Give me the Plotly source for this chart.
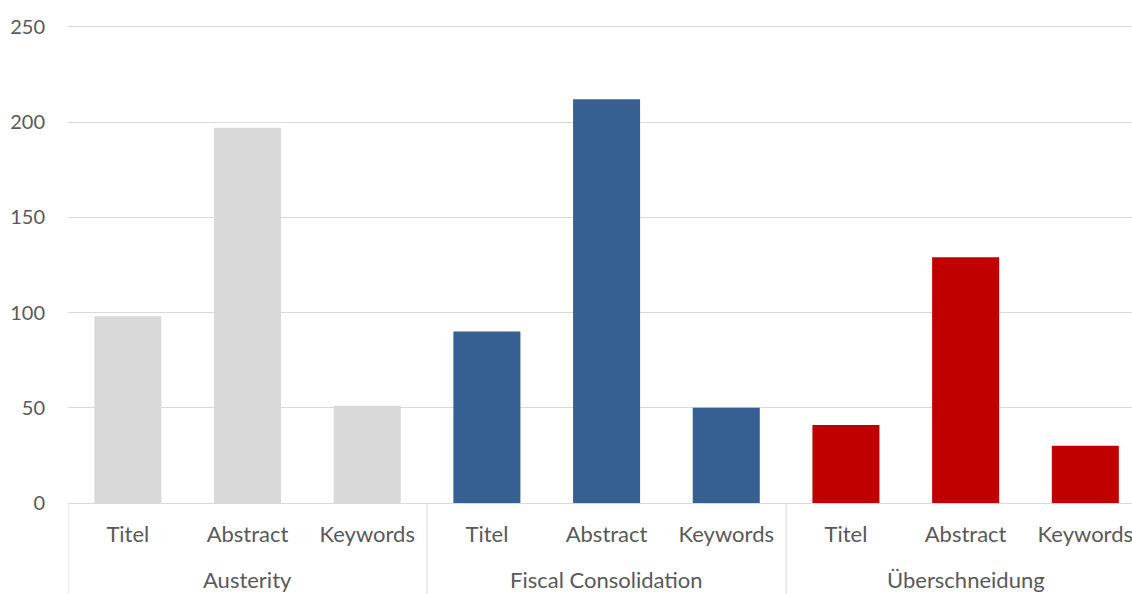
import plotly.graph_objects as go

groups = ["Austerity", "Fiscal Consolidation", "Überschneidung"]
fields = ["Titel", "Abstract", "Keywords"]
austerity = [98, 197, 51]
fiscal = [90, 212, 50]
overlap = [41, 129, 30]
group_colors = ["#d9d9d9", "#366092", "#c00000"]

keys, ticktext, values, colors = [], [], [], []
for g, vals, c in zip(groups, [austerity, fiscal, overlap], group_colors):
    for f, v in zip(fields, vals):
        keys.append(g + " | " + f)
        ticktext.append(f)
        values.append(v)
        colors.append(c)

fig = go.Figure(go.Bar(x=keys, y=values, marker_color=colors, marker_line_width=0))

font_family = "Lato, 'Noto Sans', sans-serif"
grey = "#d9d9d9"
text_col = "#595959"
fig.update_layout(
    width=1132, height=594,
    margin=dict(l=68, r=0, t=23, b=91),
    paper_bgcolor="white", plot_bgcolor="white",
    bargap=0.44, showlegend=False,
    font=dict(family=font_family, size=20, color=text_col),
)
fig.update_xaxes(
    type="category",
    categoryorder="array", categoryarray=keys,
    tickvals=keys, ticktext=ticktext,
    range=[-0.5, 8.39],
    showline=True, linecolor=grey, linewidth=1,
    ticks="", ticklabelstandoff=12,
    tickfont=dict(size=22, color=text_col),
    showgrid=False,
)
fig.update_yaxes(
    range=[0, 252], tickvals=[0, 50, 100, 150, 200, 250],
    showgrid=True, gridcolor=grey, gridwidth=1,
    zeroline=False, showline=False,
    ticklabelstandoff=22,
    tickfont=dict(size=20, color=text_col),
)

n = len(fields)
for gi, g in enumerate(groups):
    fig.add_annotation(x=gi * n + (n - 1) / 2, xref="x", y=-0.160, yref="paper",
                       text=g, showarrow=False, yanchor="middle",
                       font=dict(size=22, color=text_col))
    fig.add_shape(type="line", xref="x", yref="paper",
                  x0=gi * n - 0.5, x1=gi * n - 0.5, y0=0, y1=-0.2,
                  line=dict(color=grey, width=1))

fig.write_html("out.html")
